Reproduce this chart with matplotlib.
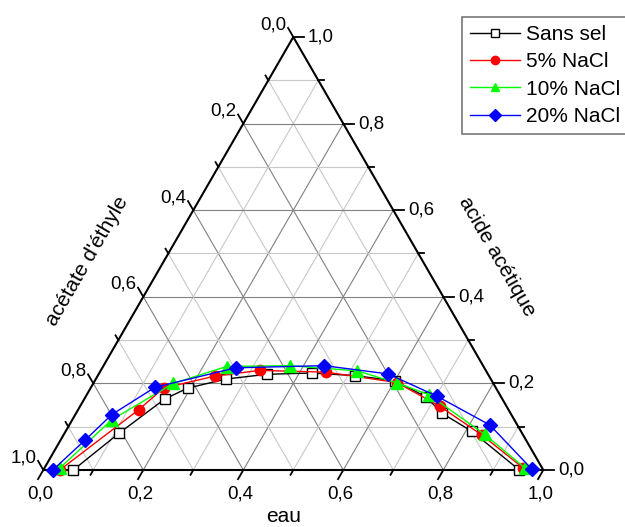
import numpy as np
import matplotlib
matplotlib.use("Agg")
import matplotlib.pyplot as plt

plt.rcParams['font.family'] = ['Liberation Sans', 'DejaVu Sans']

# fractions (eau, acide acetique); acetate d'ethyle = 1 - eau - acide
eau_sans = [0.060, 0.109, 0.161, 0.194, 0.260, 0.336, 0.426, 0.514, 0.600, 0.681, 0.732, 0.813, 0.952]
acide_sans = [0.000, 0.085, 0.164, 0.189, 0.210, 0.221, 0.224, 0.218, 0.206, 0.169, 0.131, 0.089, 0.000]

eau_5 = [0.033, 0.121, 0.146, 0.235, 0.318, 0.453, 0.606, 0.720, 0.838, 0.957]
acide_5 = [0.000, 0.139, 0.189, 0.217, 0.230, 0.226, 0.202, 0.147, 0.080, 0.005]

eau_10 = [0.031, 0.079, 0.160, 0.247, 0.373, 0.513, 0.607, 0.684, 0.842, 0.962]
acide_10 = [0.005, 0.116, 0.200, 0.239, 0.241, 0.229, 0.201, 0.174, 0.082, 0.004]

eau_20 = [0.019, 0.049, 0.073, 0.128, 0.267, 0.441, 0.578, 0.701, 0.841, 0.976]
acide_20 = [0.000, 0.069, 0.128, 0.191, 0.236, 0.241, 0.222, 0.171, 0.104, 0.002]

labels = ['Sans sel', '5% NaCl', '10% NaCl', '20% NaCl']
tick_vals = np.round(np.arange(0, 1.01, 0.1), 1)

H = np.sqrt(3) / 2


def cart(eau, acide):
    eau = np.asarray(eau)
    acide = np.asarray(acide)
    return eau + acide / 2, acide * H


def lab(v):
    return ('%.1f' % v).replace('.', ',')


fig = plt.figure(figsize=(6.25, 5.27), dpi=100)
ax = fig.add_axes([43.3 / 625, 57 / 527, 500 / 625, 433 / 527])
ax.set_xlim(0, 1)
ax.set_ylim(0, H)
ax.axis('off')

# grid
for v in tick_vals[1:-1]:
    major = int(round(v * 10)) % 2 == 0
    c = '#808080' if major else '#c8c8c8'
    ax.plot(*cart([0, 1 - v], [v, v]), color=c, lw=0.8, zorder=1)
    ax.plot(*cart([v, v], [0, 1 - v]), color=c, lw=0.8, zorder=1)
    ax.plot(*cart([1 - v, 0], [0, 1 - v]), color=c, lw=0.8, zorder=1)

# triangle
ax.plot([0, 1, 0.5, 0], [0, 0, H, 0], color='black', lw=1.5, zorder=2, clip_on=False)

# ticks
fs = 13.5
for v in tick_vals:
    major = int(round(v * 10)) % 2 == 0
    L = 0.021 if major else 0.011
    # bottom: eau
    ax.plot([v, v - 0.5 * L], [0, -H * L], color='black', lw=1.3, clip_on=False)
    # left: acetate
    x0, y0 = (1 - v) / 2, (1 - v) * H
    ax.plot([x0, x0 - 0.5 * L], [y0, y0 + H * L], color='black', lw=1.3, clip_on=False)
    # right: acide
    x1, y1 = 1 - v / 2, v * H
    ax.plot([x1, x1 + L], [y1, y1], color='black', lw=1.3, clip_on=False)
    if major:
        ax.text(v - 0.006, -0.048, lab(v), ha='center', va='center', fontsize=fs)
        ax.text(x0 - 0.014, y0 + 0.025, lab(v), ha='right', va='center', fontsize=fs)
        ax.text(x1 + 0.029, y1, lab(v), ha='left', va='center', fontsize=fs)

ax.text(0.48, -0.094, 'eau', ha='center', va='center', fontsize=15)
ax.text(0.087, 0.418, "acétate d'éthyle", ha='center', va='center', rotation=60, fontsize=15)
ax.text(0.907, 0.426, 'acide acétique', ha='center', va='center', rotation=-60, fontsize=15)

# data
ax.plot(*cart(eau_sans, acide_sans), color='black', lw=1, marker='s', ms=6.5,
        mfc='white', mec='black', label=labels[0], zorder=3, clip_on=False)
ax.plot(*cart(eau_5, acide_5), color='red', lw=1, marker='o', ms=7.5,
        label=labels[1], zorder=4, clip_on=False)
ax.plot(*cart(eau_10, acide_10), color='#00ff00', lw=1, marker='^', ms=8,
        label=labels[2], zorder=5, clip_on=False)
ax.plot(*cart(eau_20, acide_20), color='blue', lw=1, marker='D', ms=7.5,
        label=labels[3], zorder=6, clip_on=False)

leg = fig.legend(loc='upper left', bbox_to_anchor=(461.7 / 625, 1 - 16.7 / 527),
                 fontsize=15, frameon=True, fancybox=False, edgecolor='#555555',
                 handlelength=2.4, handletextpad=0.3, labelspacing=0.4,
                 borderpad=0.4, borderaxespad=0, markerscale=0.8)
leg.get_frame().set_linewidth(1.2)

fig.savefig('out.png', dpi=100)
